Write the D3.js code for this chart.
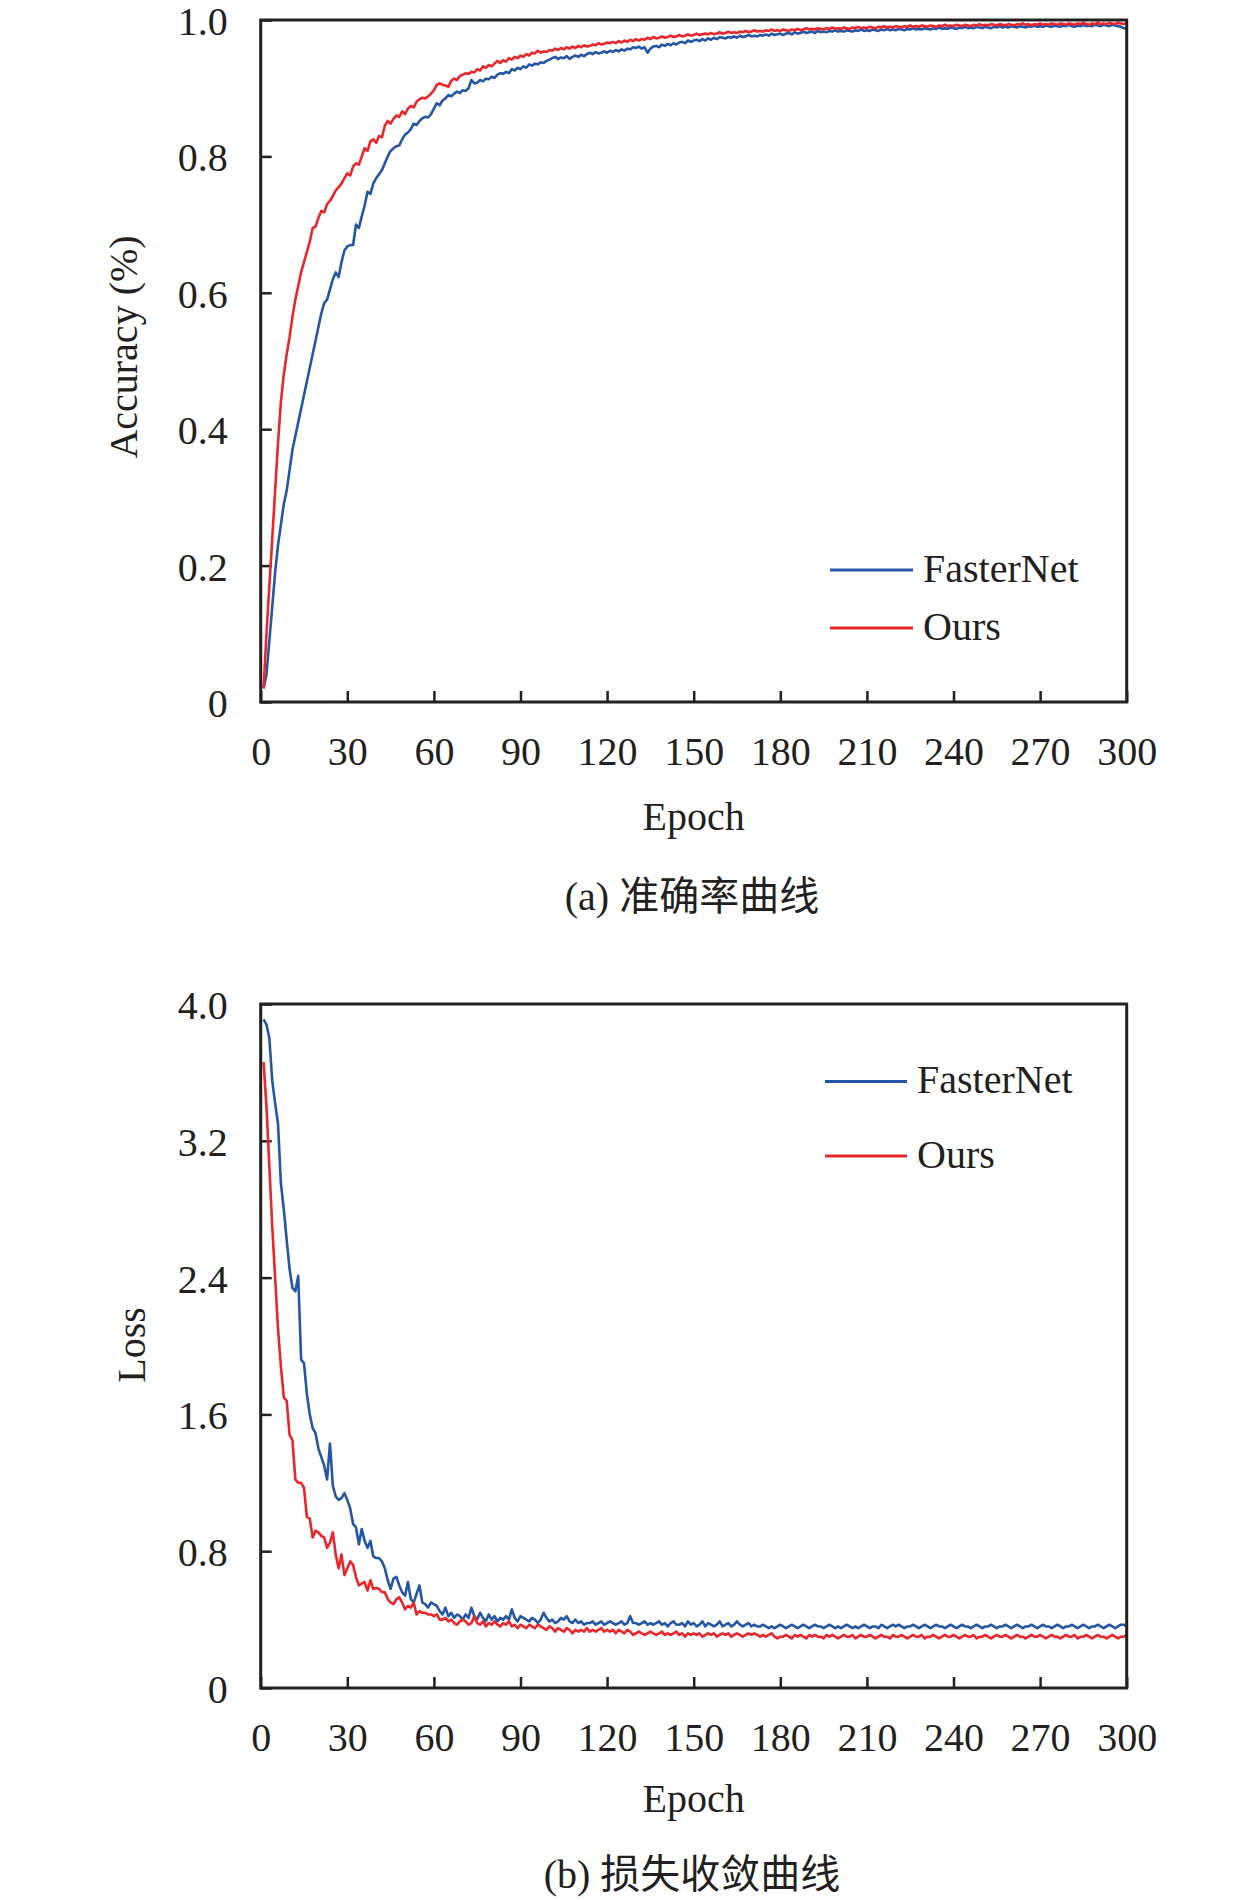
<!DOCTYPE html>
<html>
<head>
<meta charset="utf-8">
<script src="https://cdn.jsdelivr.net/npm/d3@7"></script>
<style>
  html, body { margin: 0; padding: 0; background: #fff; }
  svg { display: block; }
  text { font-family: "Liberation Serif", "Times New Roman", "Noto Sans CJK SC", serif; fill: #231f20; }
</style>
</head>
<body>
<svg id="chart" width="1259" height="1900"></svg>
<script>
// ---------------- data ----------------
const epochs = d3.range(1, 301);
const seriesNames = ["FasterNet", "Ours"];
const seriesColors = ["#2556a6", "#e8262c"];

const xTicks = [0, 30, 60, 90, 120, 150, 180, 210, 240, 270, 300];
const accTicks = [0, 0.2, 0.4, 0.6, 0.8, 1.0];
const lossTicks = [0, 0.8, 1.6, 2.4, 3.2, 4.0];

const accFasterNet = [
0.02,0.04,0.09,0.14,0.19,0.23,0.26,0.29,0.31,0.34,
0.37,0.39,0.41,0.43,0.45,0.47,0.49,0.51,0.53,0.55,
0.57,0.585,0.59,0.605,0.62,0.63,0.623,0.645,0.662,0.668,
0.67,0.67,0.70,0.695,0.712,0.728,0.748,0.745,0.76,0.768,
0.774,0.78,0.79,0.80,0.808,0.812,0.815,0.816,0.825,0.832,
0.835,0.84,0.848,0.846,0.852,0.856,0.858,0.857,0.862,0.87,
0.878,0.875,0.882,0.885,0.89,0.888,0.892,0.895,0.893,0.897,
0.896,0.9,0.912,0.907,0.908,0.912,0.91,0.914,0.913,0.917,
0.915,0.92,0.922,0.921,0.924,0.922,0.928,0.926,0.93,0.928,
0.932,0.93,0.935,0.933,0.936,0.935,0.938,0.937,0.94,0.942,
0.944,0.946,0.943,0.945,0.944,0.947,0.943,0.946,0.948,0.946,
0.949,0.947,0.95,0.952,0.95,0.953,0.951,0.952,0.954,0.952,
0.955,0.953,0.956,0.954,0.957,0.955,0.958,0.957,0.96,0.959,
0.961,0.958,0.96,0.952,0.958,0.961,0.962,0.96,0.964,0.962,
0.965,0.963,0.966,0.964,0.967,0.968,0.966,0.97,0.968,0.97,
0.971,0.969,0.972,0.97,0.973,0.971,0.974,0.972,0.975,0.974,
0.973,0.975,0.974,0.976,0.974,0.977,0.975,0.976,0.978,0.976,
0.977,0.976,0.978,0.977,0.979,0.977,0.98,0.978,0.979,0.98,
0.978,0.98,0.981,0.979,0.982,0.98,0.981,0.983,0.981,0.982,
0.983,0.981,0.984,0.982,0.983,0.982,0.984,0.983,0.985,0.983,
0.984,0.983,0.985,0.984,0.983,0.985,0.984,0.986,0.984,0.985,
0.984,0.986,0.985,0.984,0.986,0.985,0.987,0.985,0.986,0.985,
0.987,0.986,0.985,0.987,0.986,0.988,0.986,0.987,0.986,0.988,
0.987,0.986,0.988,0.987,0.989,0.987,0.988,0.987,0.989,0.988,
0.987,0.989,0.988,0.99,0.988,0.989,0.988,0.99,0.989,0.988,
0.99,0.989,0.988,0.99,0.989,0.991,0.989,0.99,0.989,0.991,
0.99,0.989,0.991,0.99,0.989,0.991,0.99,0.992,0.99,0.991,
0.99,0.992,0.991,0.99,0.992,0.991,0.99,0.992,0.991,0.993,
0.991,0.99,0.992,0.991,0.993,0.991,0.992,0.991,0.993,0.992,
0.991,0.993,0.992,0.991,0.993,0.992,0.991,0.99,0.988,0.987
];

const accOurs = [
0.02,0.10,0.17,0.24,0.31,0.38,0.44,0.48,0.51,0.535,
0.565,0.59,0.61,0.63,0.645,0.66,0.675,0.695,0.697,0.71,
0.72,0.718,0.73,0.735,0.742,0.75,0.755,0.76,0.768,0.775,
0.772,0.785,0.79,0.788,0.80,0.812,0.808,0.822,0.825,0.82,
0.83,0.828,0.845,0.852,0.848,0.855,0.86,0.858,0.866,0.862,
0.87,0.874,0.872,0.88,0.884,0.886,0.885,0.888,0.892,0.897,
0.905,0.907,0.905,0.904,0.902,0.911,0.914,0.912,0.918,0.92,
0.922,0.921,0.924,0.923,0.928,0.926,0.932,0.93,0.934,0.932,
0.936,0.94,0.937,0.941,0.939,0.944,0.942,0.946,0.944,0.948,
0.946,0.95,0.948,0.952,0.951,0.955,0.952,0.954,0.953,0.956,
0.955,0.958,0.956,0.959,0.957,0.96,0.958,0.961,0.959,0.962,
0.96,0.963,0.961,0.962,0.964,0.963,0.966,0.964,0.965,0.967,
0.966,0.968,0.966,0.969,0.967,0.97,0.968,0.971,0.969,0.972,
0.97,0.972,0.971,0.974,0.972,0.975,0.973,0.974,0.976,0.974,
0.975,0.977,0.975,0.976,0.978,0.976,0.977,0.979,0.977,0.978,
0.98,0.978,0.979,0.98,0.979,0.981,0.979,0.98,0.982,0.98,
0.981,0.983,0.981,0.982,0.981,0.983,0.982,0.984,0.982,0.983,
0.985,0.983,0.984,0.983,0.985,0.984,0.986,0.984,0.985,0.984,
0.986,0.985,0.984,0.986,0.985,0.987,0.985,0.986,0.988,0.986,
0.987,0.986,0.988,0.987,0.986,0.988,0.987,0.989,0.987,0.988,
0.987,0.989,0.988,0.987,0.989,0.988,0.99,0.988,0.989,0.988,
0.99,0.989,0.988,0.99,0.989,0.991,0.989,0.99,0.989,0.991,
0.99,0.989,0.991,0.99,0.992,0.99,0.991,0.99,0.992,0.991,
0.99,0.992,0.991,0.99,0.992,0.991,0.993,0.991,0.992,0.991,
0.993,0.992,0.991,0.993,0.992,0.991,0.993,0.992,0.994,0.992,
0.993,0.992,0.994,0.993,0.992,0.994,0.993,0.992,0.994,0.993,
0.992,0.994,0.993,0.995,0.993,0.994,0.992,0.994,0.993,0.995,
0.993,0.994,0.993,0.995,0.994,0.993,0.995,0.994,0.993,0.995,
0.994,0.993,0.995,0.994,0.996,0.994,0.993,0.995,0.994,0.996,
0.994,0.995,0.994,0.996,0.995,0.994,0.996,0.995,0.994,0.995
];

const lossFasterNet = [
3.91,3.88,3.80,3.55,3.42,3.30,2.95,2.80,2.62,2.45,
2.34,2.32,2.41,1.92,1.90,1.72,1.60,1.52,1.49,1.40,
1.35,1.30,1.22,1.43,1.18,1.12,1.10,1.11,1.14,1.10,
1.05,0.96,0.94,0.84,0.93,0.86,0.82,0.86,0.77,0.76,
0.76,0.74,0.70,0.63,0.58,0.64,0.65,0.60,0.56,0.54,
0.62,0.52,0.50,0.55,0.60,0.50,0.49,0.47,0.50,0.49,
0.48,0.45,0.43,0.47,0.42,0.44,0.41,0.43,0.42,0.40,
0.43,0.41,0.47,0.42,0.40,0.44,0.41,0.39,0.43,0.40,
0.42,0.39,0.41,0.40,0.42,0.40,0.46,0.41,0.39,0.42,
0.41,0.40,0.39,0.41,0.40,0.38,0.40,0.44,0.41,0.39,
0.40,0.38,0.39,0.41,0.40,0.42,0.39,0.38,0.40,0.38,
0.39,0.37,0.38,0.38,0.39,0.37,0.38,0.39,0.37,0.38,
0.39,0.38,0.37,0.38,0.39,0.37,0.38,0.42,0.38,0.38,
0.37,0.38,0.39,0.37,0.38,0.37,0.38,0.39,0.37,0.38,
0.36,0.38,0.39,0.37,0.37,0.38,0.36,0.39,0.37,0.38,
0.36,0.37,0.39,0.36,0.38,0.37,0.36,0.37,0.39,0.36,
0.37,0.38,0.36,0.37,0.39,0.37,0.36,0.37,0.38,0.36,
0.37,0.36,0.36,0.37,0.36,0.35,0.36,0.35,0.36,0.37,
0.36,0.35,0.36,0.37,0.36,0.35,0.36,0.37,0.36,0.35,
0.36,0.37,0.36,0.36,0.35,0.36,0.37,0.36,0.35,0.36,
0.35,0.36,0.37,0.36,0.35,0.36,0.35,0.36,0.37,0.36,
0.35,0.36,0.36,0.35,0.37,0.36,0.35,0.36,0.37,0.36,
0.37,0.36,0.35,0.36,0.36,0.37,0.36,0.35,0.36,0.37,
0.36,0.35,0.36,0.37,0.36,0.36,0.35,0.36,0.37,0.36,
0.35,0.36,0.37,0.36,0.36,0.35,0.36,0.37,0.36,0.35,
0.36,0.36,0.37,0.36,0.35,0.36,0.36,0.37,0.36,0.35,
0.36,0.37,0.36,0.35,0.36,0.36,0.37,0.36,0.35,0.36,
0.37,0.36,0.36,0.35,0.36,0.37,0.36,0.35,0.36,0.36,
0.37,0.36,0.35,0.36,0.37,0.36,0.35,0.36,0.36,0.37,
0.36,0.35,0.36,0.37,0.36,0.35,0.36,0.37,0.37,0.36
];

const lossOurs = [
3.66,3.40,3.05,2.70,2.40,2.10,1.88,1.70,1.68,1.48,
1.45,1.22,1.20,1.20,1.17,1.00,0.99,0.88,0.92,0.91,
0.89,0.88,0.82,0.85,0.91,0.78,0.70,0.78,0.66,0.70,
0.74,0.72,0.65,0.60,0.61,0.62,0.57,0.63,0.58,0.585,
0.58,0.56,0.56,0.52,0.50,0.49,0.52,0.53,0.50,0.46,
0.48,0.47,0.50,0.43,0.45,0.44,0.44,0.43,0.43,0.42,
0.43,0.40,0.40,0.41,0.39,0.40,0.38,0.37,0.39,0.40,
0.39,0.37,0.38,0.42,0.38,0.37,0.39,0.36,0.38,0.37,
0.39,0.37,0.36,0.38,0.37,0.39,0.36,0.37,0.35,0.37,
0.36,0.35,0.37,0.36,0.35,0.37,0.36,0.35,0.34,0.36,
0.35,0.33,0.35,0.34,0.33,0.35,0.34,0.32,0.34,0.33,
0.34,0.33,0.35,0.33,0.34,0.33,0.34,0.35,0.33,0.34,
0.33,0.34,0.32,0.34,0.33,0.32,0.34,0.33,0.31,0.32,
0.33,0.32,0.31,0.32,0.33,0.32,0.31,0.32,0.33,0.31,
0.32,0.31,0.32,0.33,0.31,0.32,0.30,0.32,0.31,0.32,
0.31,0.32,0.30,0.31,0.32,0.31,0.32,0.30,0.31,0.32,
0.31,0.32,0.30,0.31,0.32,0.31,0.30,0.31,0.32,0.31,
0.32,0.31,0.30,0.31,0.30,0.31,0.32,0.30,0.29,0.30,
0.30,0.31,0.30,0.29,0.31,0.30,0.31,0.30,0.29,0.31,
0.30,0.31,0.30,0.30,0.29,0.31,0.30,0.31,0.30,0.29,
0.30,0.31,0.30,0.30,0.31,0.29,0.30,0.31,0.30,0.30,
0.31,0.30,0.29,0.30,0.31,0.30,0.30,0.29,0.31,0.30,
0.30,0.31,0.30,0.29,0.30,0.31,0.30,0.30,0.31,0.29,
0.30,0.30,0.31,0.30,0.29,0.30,0.31,0.30,0.30,0.31,
0.30,0.29,0.30,0.31,0.30,0.30,0.31,0.29,0.30,0.30,
0.31,0.30,0.29,0.30,0.31,0.30,0.30,0.31,0.30,0.29,
0.30,0.31,0.30,0.30,0.29,0.30,0.31,0.30,0.30,0.31,
0.30,0.29,0.30,0.31,0.30,0.30,0.29,0.30,0.31,0.30,
0.30,0.31,0.29,0.30,0.30,0.31,0.30,0.29,0.30,0.31,
0.30,0.30,0.29,0.30,0.31,0.30,0.29,0.30,0.30,0.31
];

// ---------------- drawing ----------------
const svg = d3.select("#chart");
svg.append("rect").attr("width", 1259).attr("height", 1900).attr("fill", "#fff");

const INK = "#231f20";
const left = 260.7, right = 1126.7;

function panel(cfg) {
  const x = d3.scaleLinear().domain([0, 300]).range([left, right]);
  const y = d3.scaleLinear().domain(cfg.yDomain).range([cfg.bottom, cfg.top]);
  const g = svg.append("g");

  // x axis (inward ticks)
  const xAxis = d3.axisBottom(x).tickValues(xTicks).tickSizeInner(-11).tickSizeOuter(0)
    .tickPadding(34.5).tickFormat(d3.format("d"));
  const gx = g.append("g").attr("transform", `translate(0,${cfg.bottom})`).call(xAxis);
  gx.select(".domain").remove();
  gx.selectAll(".tick line").attr("stroke", INK).attr("stroke-width", 2.5);
  gx.selectAll(".tick text").attr("font-size", 40).attr("fill", INK)
    .attr("font-family", "'Liberation Serif', 'Times New Roman', serif");

  // y axis (inward ticks)
  const yAxis = d3.axisLeft(y).tickValues(cfg.yTicks).tickSizeInner(-11).tickSizeOuter(0)
    .tickPadding(33).tickFormat(v => v === 0 ? "0" : d3.format(".1f")(v));
  const gy = g.append("g").attr("transform", `translate(${left},0)`).call(yAxis);
  gy.select(".domain").remove();
  gy.selectAll(".tick line").attr("stroke", INK).attr("stroke-width", 2.5);
  gy.selectAll(".tick text").attr("font-size", 40).attr("fill", INK).attr("dy", "0.36em")
    .attr("font-family", "'Liberation Serif', 'Times New Roman', serif");

  // series lines
  const line = d3.line().x((d, i) => x(epochs[i])).y(d => y(d));
  cfg.series.forEach((s, k) => {
    g.append("path").datum(s).attr("fill", "none")
      .attr("stroke", seriesColors[k]).attr("stroke-width", 2.6)
      .attr("stroke-linejoin", "round").attr("d", line);
  });

  // frame
  g.append("rect").attr("x", left).attr("y", cfg.top)
    .attr("width", right - left).attr("height", cfg.bottom - cfg.top)
    .attr("fill", "none").attr("stroke", INK).attr("stroke-width", 3);

  // legend
  seriesNames.forEach((name, k) => {
    const ly = cfg.legend.y[k];
    g.append("line").attr("x1", cfg.legend.x1).attr("x2", cfg.legend.x2)
      .attr("y1", ly).attr("y2", ly)
      .attr("stroke", seriesColors[k]).attr("stroke-width", 3);
    g.append("text").attr("x", cfg.legend.tx).attr("y", ly + 11.5)
      .attr("font-size", 40).text(name);
  });

  // axis titles
  g.append("text").attr("text-anchor", "middle")
    .attr("transform", `translate(${cfg.yTitle.x},${cfg.yTitle.y}) rotate(-90)`)
    .attr("font-size", 40).text(cfg.yTitle.text);
  g.append("text").attr("x", (left + right) / 2).attr("y", cfg.xTitleY)
    .attr("text-anchor", "middle").attr("font-size", 40).text("Epoch");

  // caption
  g.append("text").attr("x", 692).attr("y", cfg.caption.y)
    .attr("text-anchor", "middle").attr("font-size", 40)
    .attr("font-family", "'Liberation Serif', 'Noto Sans CJK SC', serif")
    .text(cfg.caption.text);
}

panel({
  top: 20, bottom: 702, yDomain: [0, 1], yTicks: accTicks,
  series: [accFasterNet, accOurs],
  legend: { x1: 830, x2: 913, tx: 923, y: [570, 628] },
  yTitle: { x: 137, y: 347, text: "Accuracy (%)" },
  xTitleY: 830,
  caption: { y: 910, text: "(a) 准确率曲线" }
});

panel({
  top: 1004, bottom: 1688, yDomain: [0, 4], yTicks: lossTicks,
  series: [lossFasterNet, lossOurs],
  legend: { x1: 825, x2: 907, tx: 917, y: [1081.5, 1156] },
  yTitle: { x: 145, y: 1345, text: "Loss" },
  xTitleY: 1812,
  caption: { y: 1888, text: "(b) 损失收敛曲线" }
});
</script>
</body>
</html>
